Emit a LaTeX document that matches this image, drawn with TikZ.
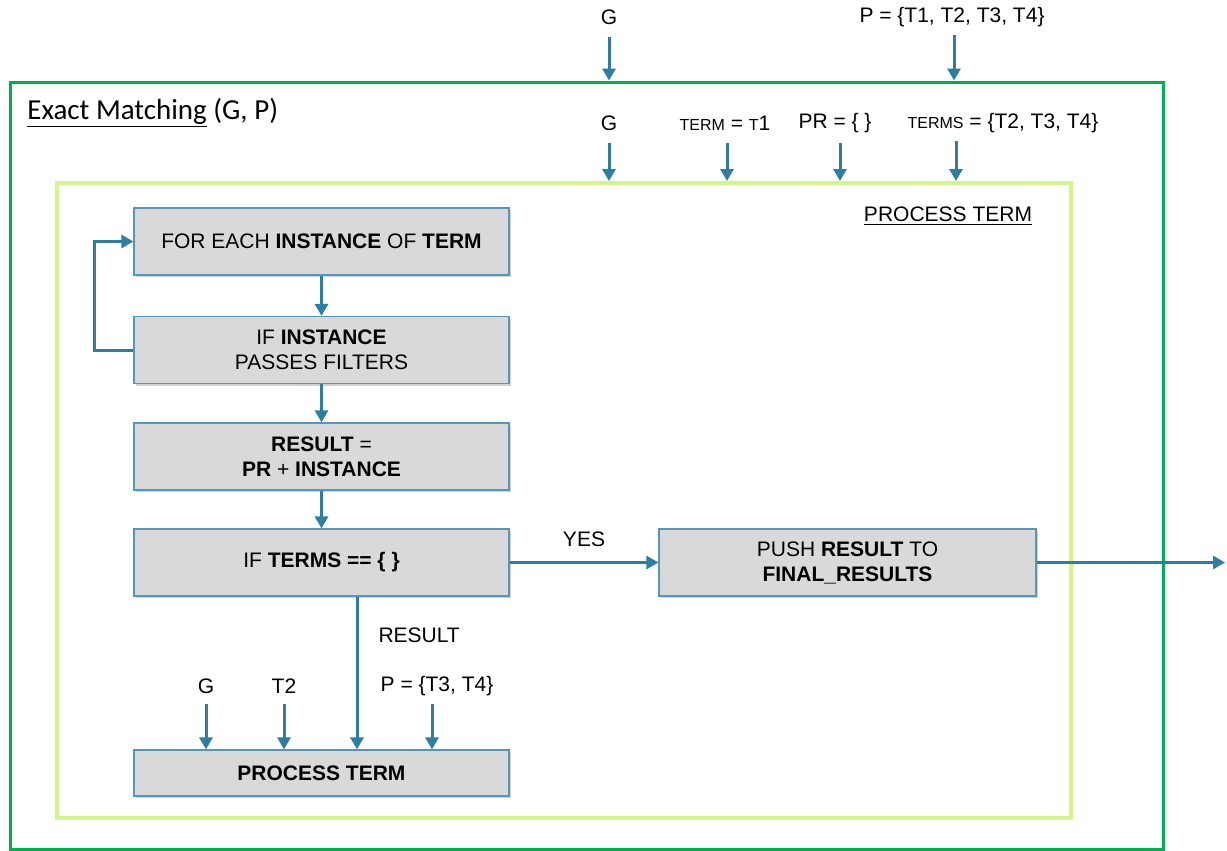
\documentclass[tikz,border=0pt]{standalone}
\usepackage{fontspec}
\setmainfont{Liberation Sans}
\newfontfamily\calibri{Carlito}
\usetikzlibrary{arrows.meta,shadows}
\definecolor{arrblue}{RGB}{46,125,163}
\definecolor{boxblue}{RGB}{84,150,190}
\definecolor{boxgray}{RGB}{217,217,217}
\definecolor{outgreen}{RGB}{0,176,80}
\definecolor{ingreen}{RGB}{212,245,140}
\tikzset{
  arr/.style={draw=arrblue, line width=1.5pt, -{Triangle[length=6pt,width=6.5pt]}},
  proc/.style={draw=boxblue, line width=0.6pt, fill=boxgray, minimum width=187.5pt, minimum height=33.5pt,
    align=center, inner sep=0pt, font=\fontsize{10.5}{12.5}\selectfont,
    drop shadow={shadow xshift=1pt, shadow yshift=-1.2pt, opacity=0.35, fill=gray}},
  lbl/.style={font=\fontsize{10.5}{12}\selectfont, inner sep=0pt},
  frame/.style={inner sep=0pt}
}
\newcommand{\smc}[1]{{\fontsize{8}{9}\selectfont #1}}
\begin{document}
\begin{tikzpicture}[x=0.5pt,y=-0.5pt]
\useasboundingbox (0,0) rectangle (1227,851);
% frames
\node[frame, draw=outgreen, line width=1.5pt, fill=white, minimum width=576.5pt, minimum height=383.5pt,
  drop shadow={shadow xshift=0.8pt, shadow yshift=-0.8pt, opacity=0.2, fill=gray}] (outer) at (586.5,465.5) {};
\node[frame, draw=ingreen, line width=2pt, fill=white, minimum width=507pt, minimum height=317.5pt,
  drop shadow={shadow xshift=1pt, shadow yshift=-1pt, opacity=0.25, fill=gray}] (inner) at (564,500.5) {};
\node[anchor=west, font=\calibri\fontsize{14.5}{16}\selectfont, inner sep=0pt] (title) at (27,113) {\underline{Exact Matching} (G, P)};
\node[lbl] (ptlabel) at (948,216) {\underline{PROCESS TERM}};
% boxes
\node[proc] (n1) at (321.5,241.5) {FOR EACH \textbf{INSTANCE} OF \textbf{TERM}};
\node[proc] (n2) at (321.5,350) {IF \textbf{INSTANCE}\\PASSES FILTERS};
\node[proc] (n3) at (321.5,456.5) {\textbf{RESULT} =\\\textbf{PR} + \textbf{INSTANCE}};
\node[proc] (n4) at (321.5,562.5) {IF \textbf{TERMS == \{ \}}};
\node[proc, minimum height=23pt] (n6) at (321.5,773) {\textbf{PROCESS TERM}};
\node[proc, minimum width=188.5pt] (n5) at (847.5,562.5) {PUSH \textbf{RESULT} TO\\\textbf{FINAL\_RESULTS}};
% flow
\draw[arr] (n1) -- (n2);
\draw[arr] (n2) -- (n3);
\draw[arr] (n3) -- (n4);
\draw[arr] (n2.west) -- ++(-39,0) |- (n1.west);
\draw[arr] (n4.east) -- node[lbl, above=7pt]{YES} (n5.west);
\coordinate (out) at (1225,562.5);
\draw[arr] (n5.east) -- (out);
\coordinate (rx) at (357,0);
\draw[arr] (n4.south -| rx) -- node[lbl, right=10pt, pos=0.25]{RESULT} (n6.north -| rx);
% inputs to bottom process term
\coordinate (g2) at (206,704);
\coordinate (t2) at (284,704);
\coordinate (p2) at (432,704);
\node[lbl] (g2l) at (206,686) {G};
\node[lbl] (t2l) at (284,686) {T2};
\node[lbl] (p2l) at (437,686) {P = \{T3, T4\}};
\draw[arr] (g2) -- (g2 |- n6.north);
\draw[arr] (t2) -- (t2 |- n6.north);
\draw[arr] (p2) -- (p2 |- n6.north);
% top inputs
\coordinate (gtop) at (609,37);
\coordinate (ptop) at (954,35);
\node[lbl] (gtopl) at (609,17) {G};
\node[lbl] (ptopl) at (952,17) {P = \{T1, T2, T3, T4\}};
\draw[arr] (gtop) -- (gtop |- outer.north);
\draw[arr] (ptop) -- (ptop |- outer.north);
% second row inputs
\coordinate (gin) at (609,143);
\coordinate (tin) at (727,143);
\coordinate (prin) at (840,143);
\coordinate (tsin) at (956,141);
\node[lbl] (ginl) at (609,123) {G};
\node[lbl] (tinl) at (725,123) {\smc{TERM} = \smc{T}1};
\node[lbl] (prinl) at (835,123) {PR = \{ \}};
\node[lbl] (tsinl) at (1003,123) {\smc{TERMS} = \{T2, T3, T4\}};
\draw[arr] (gin) -- (gin |- inner.north);
\draw[arr] (tin) -- (tin |- inner.north);
\draw[arr] (prin) -- (prin |- inner.north);
\draw[arr] (tsin) -- (tsin |- inner.north);
\end{tikzpicture}
\end{document}
